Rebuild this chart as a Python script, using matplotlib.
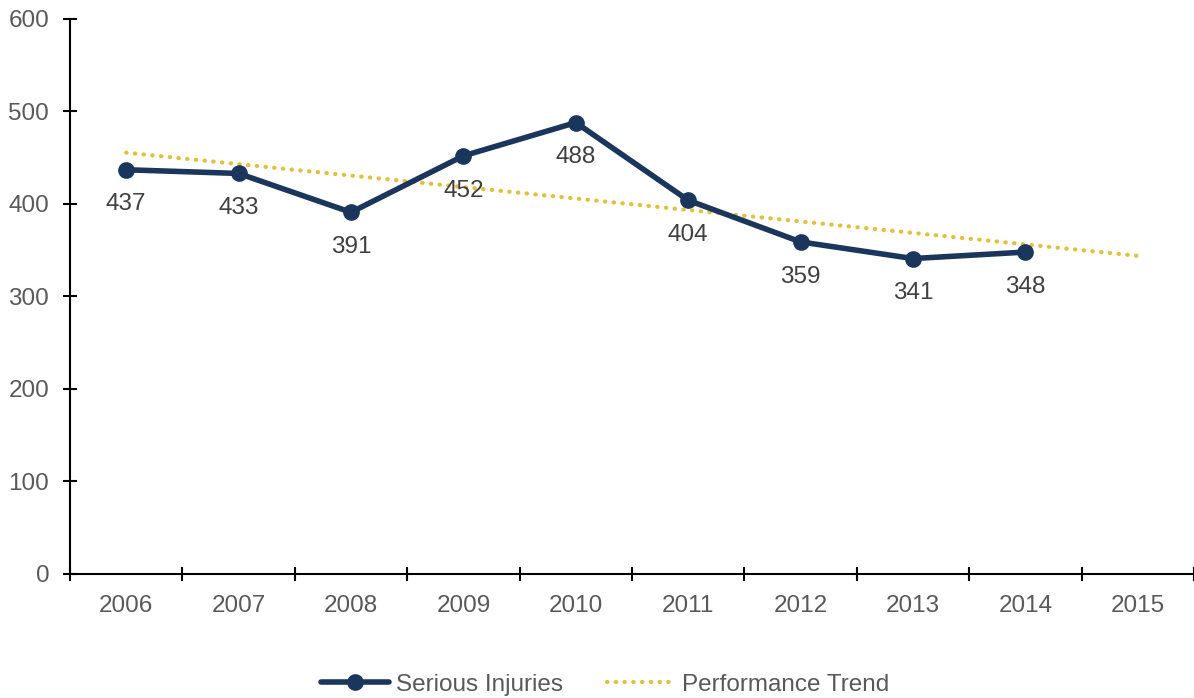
import matplotlib.pyplot as plt
import matplotlib
import numpy as np

matplotlib.rcParams['font.family'] = ['Liberation Sans', 'DejaVu Sans']

years = ['2006', '2007', '2008', '2009', '2010', '2011', '2012', '2013', '2014', '2015']
injuries = [437, 433, 391, 452, 488, 404, 359, 341, 348]
# trend line end points (2006 and 2015)
trend = [455.5, 343.9]

navy = '#1b365d'
gold = '#e3bf3a'

fig = plt.figure(figsize=(11.94, 6.98), dpi=100)
ax = fig.add_axes([0.0586, 0.1777, 0.9414, 0.7951])

x = np.arange(len(injuries))
ax.plot(x, injuries, color=navy, lw=4.0, marker='o', markersize=11,
        label='Serious Injuries', solid_capstyle='round', zorder=3)
ax.plot([0, len(years) - 1], trend, color=gold, lw=3.0, linestyle=(0, (0.1, 2.0)),
        dash_capstyle='round', label='Performance Trend', zorder=2)

for xi, v in zip(x, injuries):
    ax.annotate(str(v), (xi, v), xytext=(0, -25), textcoords='offset points',
                ha='center', va='center', fontsize=17.5, color='#404040')

ax.set_xlim(-0.5, len(years) - 0.5)
ax.set_ylim(0, 600)
ax.set_yticks(range(0, 601, 100))
ax.set_xticks(range(len(years)))
ax.set_xticklabels(years)
ax.set_xticks(np.arange(-0.5, len(years), 1.0), minor=True)
ax.tick_params(axis='x', which='major', length=0, pad=15, labelsize=17.5, labelcolor='#595959')
ax.tick_params(axis='x', which='minor', direction='inout', length=10, width=1.5)
ax.tick_params(axis='y', direction='inout', length=10, width=1.5, pad=10,
               labelsize=17.5, labelcolor='#595959')

for s in ['top', 'right']:
    ax.spines[s].set_visible(False)
for s in ['left', 'bottom']:
    ax.spines[s].set_linewidth(1.5)
ax.spines['bottom'].set_zorder(4)

ax.legend(loc='center', bbox_to_anchor=(0.476, -0.2), ncol=2, frameon=False,
          fontsize=17.5, handlelength=2.8, handletextpad=0.3, columnspacing=1.8,
          labelcolor='#595959')

plt.savefig('out.png', dpi=100)
